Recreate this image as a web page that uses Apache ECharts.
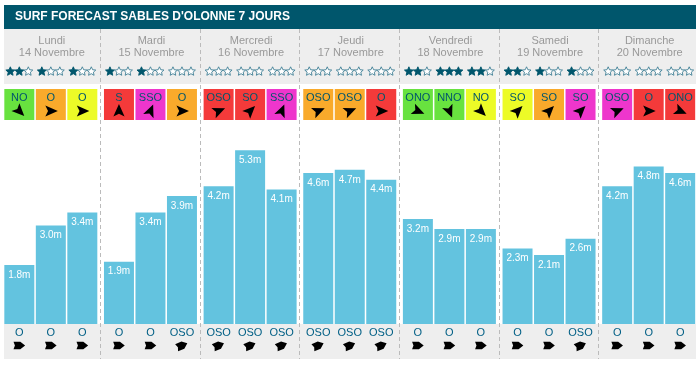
<!DOCTYPE html>
<html><head><meta charset="utf-8">
<style>html,body{margin:0;padding:0;background:#fff}#c{width:700px;height:366px}</style>
<script src="https://cdn.jsdelivr.net/npm/echarts@6/dist/echarts.min.js"></script>
</head><body><div id="c"></div>
<script>
const titleText = "SURF FORECAST SABLES D'OLONNE 7 JOURS";
const dayNames = ["Lundi","Mardi","Mercredi","Jeudi","Vendredi","Samedi","Dimanche"];
const dayDates = ["14 Novembre","15 Novembre","16 Novembre","17 Novembre","18 Novembre","19 Novembre","20 Novembre"];
const heights1 = [1.8,1.9,4.2,4.6,3.2,2.3,4.2];
const heights2 = [3.0,3.4,5.3,4.7,2.9,2.1,4.8];
const heights3 = [3.4,3.9,4.1,4.4,2.9,2.6,4.6];
const stars = [2,1,1, 1,1,0, 0,0,0, 0,0,0, 2,3,2, 2,1,1, 0,0,0];
const swellDirs = ["NO","O","O", "S","SSO","O", "OSO","SO","SSO", "OSO","OSO","O", "ONO","NNO","NO", "SO","SO","SO", "OSO","O","ONO"];
const ratings = ["g","o","y", "r","m","o", "r","r","m", "o","o","r", "g","g","y", "y","o","m", "m","r","r"];
const windDirs = ["O","O","O", "O","O","OSO", "OSO","OSO","OSO", "OSO","OSO","OSO", "O","O","O", "O","O","OSO", "O","O","O"];

const tileColors = {g:"#68e23f",o:"#f9aa2b",y:"#ecfb27",r:"#f43a3a",m:"#ee36cc"};
const bearing = {S:0,SSO:22.5,SO:45,OSO:67.5,O:90,ONO:112.5,NO:135,NNO:157.5};
const TEAL = "#00566c", FONT = '"Liberation Sans", Arial, sans-serif';
const GRID_TOP = 29, BAR_BASE = 324, PX_PER_M = 32.8, SLOT = 31.5;

const rot = (pts, deg, cx, cy) => {
  const a = deg*Math.PI/180, c = Math.cos(a), s = Math.sin(a);
  return pts.map(([x,y]) => [cx + x*c - y*s, cy + x*s + y*c]);
};
const kite = [[0,-7],[5.6,5.5],[0,2.8],[-5.6,5.5]];
const blunt = [[-3.8,5.8],[-3.8,-1],[0,-5.8],[3.8,-1],[3.8,5.8],[0,4.4]];
const starPts = (() => {
  const p = [];
  for (let i=0;i<10;i++){ const r = i%2 ? 2.2 : 4.7, a = -Math.PI/2 + i*Math.PI/5; p.push([r*Math.cos(a), r*Math.sin(a)]); }
  return p;
})();

function renderSlot(params, api){
  const i = api.value(0), day = Math.floor(i/3), slot = i%3;
  const cx = api.coord([day,0])[0] + (slot-1)*SLOT;
  const kids = [];
  for (let s=0;s<3;s++){
    const x = cx + (s-1)*9, on = s < stars[i];
    kids.push({type:'polygon',shape:{points:rot(starPts,0,x,71.5)},
      style:{fill:on?TEAL:'#fff',stroke:on?TEAL:'#3f7f95',lineWidth:0.9}});
  }
  kids.push({type:'rect',shape:{x:cx-15,y:89,width:30,height:31},style:{fill:tileColors[ratings[i]]}});
  kids.push({type:'text',style:{x:cx,y:97.5,text:swellDirs[i],fill:TEAL,font:'11px '+FONT,align:'center',verticalAlign:'middle'}});
  kids.push({type:'polygon',shape:{points:rot(kite,bearing[swellDirs[i]],cx,111)},style:{fill:'#000'}});
  kids.push({type:'text',style:{x:cx,y:333,text:windDirs[i],fill:'#005f85',font:'11px '+FONT,align:'center',verticalAlign:'middle'}});
  kids.push({type:'polygon',shape:{points:rot(blunt,bearing[windDirs[i]],cx,345.5)},style:{fill:'#000'}});
  return {type:'group',children:kids};
}
function renderDay(params, api){
  const d = api.value(0), c = api.coord([d,0])[0] + 1, w = api.size([1,0])[0];
  const kids = [
    {type:'text',style:{x:c,y:40.5,text:dayNames[d],fill:'#999',font:'11px '+FONT,align:'center',verticalAlign:'middle'}},
    {type:'text',style:{x:c,y:52.5,text:dayDates[d],fill:'#999',font:'11px '+FONT,align:'center',verticalAlign:'middle'}}
  ];
  if (d < dayNames.length-1){
    const x = Math.floor(c-1+w/2)+0.5;
    kids.push({type:'line',shape:{x1:x,y1:GRID_TOP,x2:x,y2:359},style:{stroke:'#bbb',lineWidth:1,lineDash:[4,3]}});
  }
  return {type:'group',children:kids};
}
const barSeries = (name,data) => ({
  type:'bar',name,data,barWidth:30,barGap:'5%',itemStyle:{color:'#63c3df'},z:3,
  label:{show:true,position:'insideTop',distance:5,color:'#fff',fontSize:10,fontFamily:FONT,formatter:p=>p.value.toFixed(1)+'m'},
  silent:true
});

const chart = echarts.init(document.getElementById('c'),null,{renderer:'canvas'});
chart.setOption({
  animation:false,
  backgroundColor:'#fff',
  title:{text:titleText,left:15,top:11,padding:0,textStyle:{color:'#fff',fontSize:12,fontWeight:'bold',fontFamily:FONT}},
  grid:{left:1,right:1.5,top:GRID_TOP,height:BAR_BASE-GRID_TOP},
  xAxis:{type:'category',data:dayNames,show:false},
  yAxis:{type:'value',min:0,max:(BAR_BASE-GRID_TOP)/PX_PER_M,show:false},
  graphic:[
    {type:'rect',z:0,shape:{x:4,y:5,width:692,height:24},style:{fill:'#00566c'}},
    {type:'rect',z:0,shape:{x:4,y:29,width:692,height:55},style:{fill:'#eee'}},
    {type:'rect',z:0,shape:{x:4,y:324,width:692,height:35},style:{fill:'#eee'}}
  ],
  series:[
    {type:'custom',name:'days',renderItem:renderDay,data:dayNames.map((_,i)=>[i]),encode:{x:0},clip:false,z:2,silent:true},
    barSeries('h1',heights1),barSeries('h2',heights2),barSeries('h3',heights3),
    {type:'custom',name:'slots',renderItem:renderSlot,data:stars.map((_,i)=>[i]),encode:{},clip:false,z:4,silent:true}
  ]
});
</script></body></html>
